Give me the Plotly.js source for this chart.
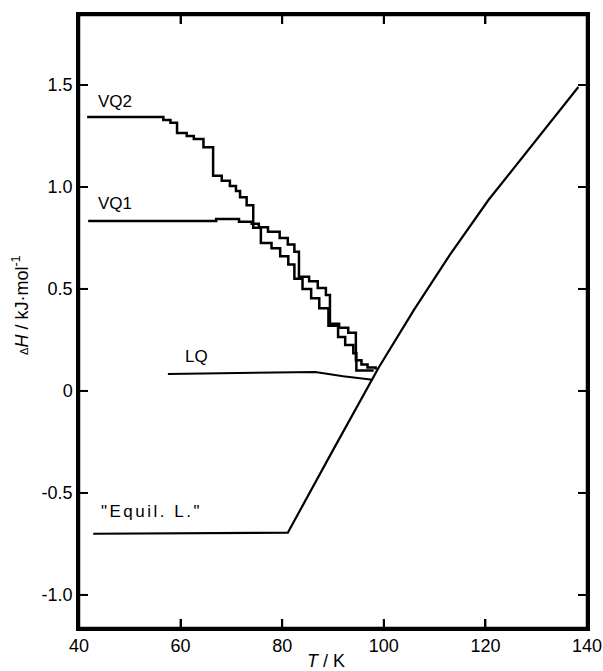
<!DOCTYPE html>
<html>
<head>
<meta charset="utf-8">
<script src="https://cdn.plot.ly/plotly-3.0.1.min.js"></script>
<style>html,body{margin:0;padding:0;background:#fff;}#chart{width:603px;height:671px;}</style>
</head>
<body>
<div id="chart"></div>
<script>
// ---- Data (T in K, ΔH in kJ/mol) ----
// VQ2 staircase (hv steps: run horizontally to T, then drop to H)
const vq2T = [41.6, 56.6, 58.0, 59.3, 61.2, 62.6, 64.5, 66.4, 68.1, 69.7, 70.9, 71.7, 73.0, 74.3, 75.8, 77.9, 79.6, 81.2, 82.4, 84.0, 85.7, 87.3, 89.1, 91.0, 92.4, 94.0, 94.6, 98.0];
const vq2H = [1.343, 1.328, 1.315, 1.265, 1.250, 1.235, 1.195, 1.055, 1.030, 1.005, 0.980, 0.950, 0.910, 0.800, 0.725, 0.700, 0.660, 0.620, 0.550, 0.500, 0.455, 0.405, 0.320, 0.265, 0.225, 0.185, 0.100, 0.100];
// VQ1 staircase
const vq1T = [41.8, 67.0, 71.5, 74.0, 75.4, 77.2, 79.5, 81.1, 82.4, 83.3, 85.3, 87.0, 88.6, 89.4, 91.2, 93.0, 94.5, 95.6, 96.8, 98.4];
const vq1H = [0.833, 0.843, 0.830, 0.820, 0.803, 0.780, 0.750, 0.718, 0.683, 0.560, 0.538, 0.505, 0.470, 0.330, 0.310, 0.285, 0.150, 0.130, 0.115, 0.105];
// LQ
const lqT = [57.5, 70.0, 86.5, 92.0, 97.8];
const lqH = [0.083, 0.088, 0.093, 0.072, 0.055];
// "Equil. L."
const eqT = [42.8, 81.1, 90.0, 99.0, 106.0, 113.0, 120.6, 130.0, 138.3];
const eqH = [-0.700, -0.695, -0.290, 0.115, 0.400, 0.667, 0.936, 1.230, 1.490];

// Curve labels
const labelText = ["VQ2", "VQ1", "LQ", "\"Equil. L.\""];
const labelT = [43.4, 43.4, 60.4, 43.9];
const labelH = [1.42, 0.92, 0.168, -0.59];

// Axis ticks and titles
const xTickVals = [40, 60, 80, 100, 120, 140];
const xTickText = ["40", "60", "80", "100", "120", "140"];
const yTickVals = [-1.0, -0.5, 0, 0.5, 1.0, 1.5];
const yTickText = ["-1.0", "-0.5", "0", "0.5", "1.0", "1.5"];
const xTitle = "<i>T</i> / K";
const yTitle = "<span style='font-size:11px'>Δ</span><i>H</i> / kJ·mol<sup>-1</sup>";

const FONT = "Liberation Sans, Arial, sans-serif";
const XR = [40, 140];
const YR = [-1.162, 1.843];
const W = 603, H = 671;
const M = {l: 79, r: 16, t: 15, b: 43};
const TICKPX = 9;

// frame + inside tick marks on all four sides, built from the axis ranges and tick arrays
const dX = TICKPX * (XR[1] - XR[0]) / (W - M.l - M.r);
const dY = TICKPX * (YR[1] - YR[0]) / (H - M.t - M.b);
const frameX = [XR[0], XR[1], XR[1], XR[0], XR[0]];
const frameY = [YR[0], YR[0], YR[1], YR[1], YR[0]];
const tickX = [], tickY = [];
xTickVals.forEach(v => {
  tickX.push(v, v, null, v, v, null);
  tickY.push(YR[0], YR[0] + dY, null, YR[1], YR[1] - dY, null);
});
yTickVals.forEach(v => {
  tickX.push(XR[0], XR[0] + dX, null, XR[1], XR[1] - dX, null);
  tickY.push(v, v, null, v, v, null);
});

const traces = [
  {x: vq2T, y: vq2H, mode: "lines", line: {color: "#000", width: 2.5, shape: "hv"}, hoverinfo: "skip"},
  {x: vq1T, y: vq1H, mode: "lines", line: {color: "#000", width: 2.5, shape: "hv"}, hoverinfo: "skip"},
  {x: lqT, y: lqH, mode: "lines", line: {color: "#000", width: 2}, hoverinfo: "skip"},
  {x: eqT, y: eqH, mode: "lines", line: {color: "#000", width: 2.2}, hoverinfo: "skip"},
  {x: frameX, y: frameY, mode: "lines", line: {color: "#000", width: 2.5}, cliponaxis: false, hoverinfo: "skip"},
  {x: tickX, y: tickY, mode: "lines", line: {color: "#000", width: 2}, connectgaps: false, cliponaxis: false, hoverinfo: "skip"}
];

const annotations = labelText.map((t, i) => ({
  x: labelT[i], y: labelH[i], xref: "x", yref: "y",
  text: i === 3 ? "<span style='letter-spacing:2.5px'>" + t + "</span>" : t,
  showarrow: false, xanchor: "left", yanchor: "middle",
  font: {family: FONT, size: 17, color: "#000"}
}));
annotations.push({
  xref: "paper", yref: "paper", x: 0.486, y: 0, xanchor: "center", yanchor: "top", yshift: -21,
  text: xTitle, showarrow: false, font: {family: FONT, size: 18, color: "#000"}
});
annotations.push({
  xref: "paper", yref: "paper", x: 0, y: 0.527, xanchor: "center", yanchor: "middle", xshift: -58,
  textangle: -90, text: yTitle, showarrow: false, font: {family: FONT, size: 18, color: "#000"}
});

const layout = {
  width: W, height: H,
  margin: M,
  showlegend: false,
  xaxis: {
    range: XR, showline: true, linewidth: 2.5, linecolor: "#000", mirror: "allticks",
    ticks: "inside", ticklen: TICKPX, tickwidth: 2, tickcolor: "#000",
    tickmode: "array", tickvals: xTickVals, ticktext: xTickText,
    showgrid: false, zeroline: false, automargin: false,
    tickfont: {family: FONT, size: 18, color: "#000"}
  },
  yaxis: {
    range: YR, showline: true, linewidth: 2.5, linecolor: "#000", mirror: "allticks",
    ticks: "inside", ticklen: TICKPX, tickwidth: 2, tickcolor: "#000",
    tickmode: "array", tickvals: yTickVals, ticktext: yTickText,
    showgrid: false, zeroline: false, automargin: false,
    tickfont: {family: FONT, size: 18, color: "#000"}
  },
  annotations: annotations
};

Plotly.newPlot("chart", traces, layout, {displayModeBar: false});
</script>
</body>
</html>
